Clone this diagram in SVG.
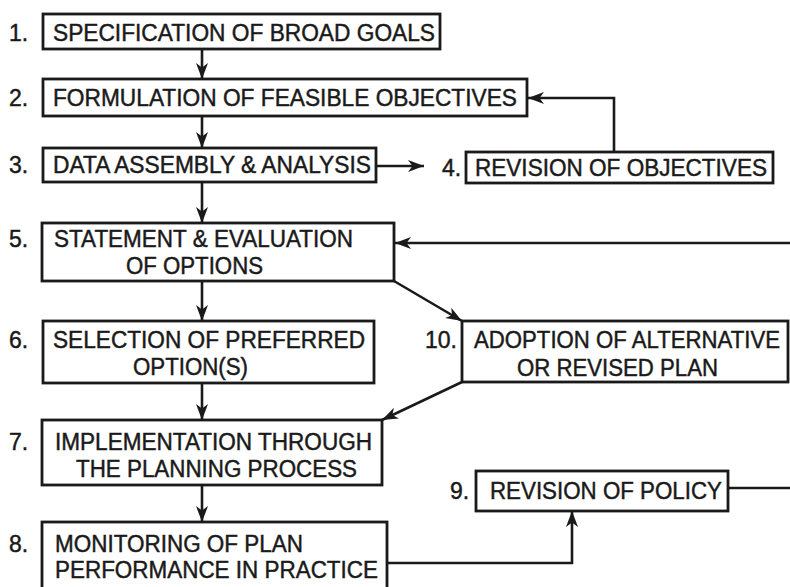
<svg xmlns="http://www.w3.org/2000/svg" width="790" height="587" viewBox="0 0 790 587">
<style>
  .box{fill:#fff;stroke:#1a1a1a;stroke-width:2.8}
  .t{font-family:"Liberation Sans",Arial,Helvetica,sans-serif;font-size:23px;fill:#1a1a1a;stroke:#1a1a1a;stroke-width:0.45}
  .c{fill:none;stroke:#1a1a1a;stroke-width:2.6}
</style>
<defs>
  <marker id="ah" markerUnits="userSpaceOnUse" markerWidth="17" markerHeight="13" refX="16" refY="6.5" orient="auto">
    <path d="M0,0.5 L16,6.5 L0,12.5 L4.5,6.5 z" fill="#1a1a1a"/>
  </marker>
</defs>
<rect width="790" height="587" fill="#fff"/>
<g id="connectors">
  <line class="c" x1="202" y1="49" x2="202" y2="79" marker-end="url(#ah)"/>
  <line class="c" x1="202" y1="116" x2="202" y2="148" marker-end="url(#ah)"/>
  <line class="c" x1="202" y1="182" x2="202" y2="223" marker-end="url(#ah)"/>
  <line class="c" x1="202" y1="281" x2="202" y2="321" marker-end="url(#ah)"/>
  <line class="c" x1="202" y1="383" x2="202" y2="420" marker-end="url(#ah)"/>
  <line class="c" x1="202" y1="485" x2="202" y2="522" marker-end="url(#ah)"/>
  <line class="c" x1="376" y1="166" x2="424" y2="166" marker-end="url(#ah)"/>
  <polyline class="c" points="614,152 614,98 528,98" marker-end="url(#ah)"/>
  <line class="c" x1="792" y1="243" x2="395" y2="243" marker-end="url(#ah)"/>
  <line class="c" x1="394" y1="281" x2="462" y2="321" marker-end="url(#ah)"/>
  <line class="c" x1="462" y1="382" x2="382" y2="420" marker-end="url(#ah)"/>
  <polyline class="c" points="387,563 572,563 572,511" marker-end="url(#ah)"/>
  <line class="c" x1="728" y1="488" x2="792" y2="488"/>
</g>
<g id="node1">
  <rect class="box" x="43" y="14" width="397" height="35"/>
  <text class="t" x="9" y="41">1.</text>
  <text class="t" x="53" y="41" textLength="382" lengthAdjust="spacingAndGlyphs">SPECIFICATION OF BROAD GOALS</text>
</g>
<g id="node2">
  <rect class="box" x="43" y="79" width="484" height="37"/>
  <text class="t" x="9" y="106">2.</text>
  <text class="t" x="53" y="106" textLength="464" lengthAdjust="spacingAndGlyphs">FORMULATION OF FEASIBLE OBJECTIVES</text>
</g>
<g id="node3">
  <rect class="box" x="43" y="148" width="333" height="34"/>
  <text class="t" x="9" y="173">3.</text>
  <text class="t" x="53" y="173" textLength="318" lengthAdjust="spacingAndGlyphs">DATA ASSEMBLY &amp; ANALYSIS</text>
</g>
<g id="node4">
  <rect class="box" x="466" y="152" width="307" height="31"/>
  <text class="t" x="442" y="176">4.</text>
  <text class="t" x="475" y="176" textLength="292" lengthAdjust="spacingAndGlyphs">REVISION OF OBJECTIVES</text>
</g>
<g id="node5">
  <rect class="box" x="42" y="223" width="352" height="58"/>
  <text class="t" x="9" y="247">5.</text>
  <text class="t" x="54" y="247" textLength="299" lengthAdjust="spacingAndGlyphs">STATEMENT &amp; EVALUATION</text>
  <text class="t" x="126" y="274" textLength="137" lengthAdjust="spacingAndGlyphs">OF OPTIONS</text>
</g>
<g id="node6">
  <rect class="box" x="43" y="321" width="331" height="62"/>
  <text class="t" x="9" y="348">6.</text>
  <text class="t" x="53" y="348" textLength="312" lengthAdjust="spacingAndGlyphs">SELECTION OF PREFERRED</text>
  <text class="t" x="133" y="375" textLength="115" lengthAdjust="spacingAndGlyphs">OPTION(S)</text>
</g>
<g id="node10">
  <rect class="box" x="462" y="321" width="326" height="61"/>
  <text class="t" x="425" y="348">10.</text>
  <text class="t" x="474" y="348" textLength="306" lengthAdjust="spacingAndGlyphs">ADOPTION OF ALTERNATIVE</text>
  <text class="t" x="517" y="376" textLength="201" lengthAdjust="spacingAndGlyphs">OR REVISED PLAN</text>
</g>
<g id="node7">
  <rect class="box" x="42" y="420" width="340" height="65"/>
  <text class="t" x="9" y="450">7.</text>
  <text class="t" x="55" y="450" textLength="317" lengthAdjust="spacingAndGlyphs">IMPLEMENTATION THROUGH</text>
  <text class="t" x="76" y="477" textLength="281" lengthAdjust="spacingAndGlyphs">THE PLANNING PROCESS</text>
</g>
<g id="node8">
  <rect class="box" x="42" y="522" width="345" height="68"/>
  <text class="t" x="9" y="552">8.</text>
  <text class="t" x="55" y="552" textLength="248" lengthAdjust="spacingAndGlyphs">MONITORING OF PLAN</text>
  <text class="t" x="55" y="578" textLength="323" lengthAdjust="spacingAndGlyphs">PERFORMANCE IN PRACTICE</text>
</g>
<g id="node9">
  <rect class="box" x="476" y="471" width="252" height="40"/>
  <text class="t" x="450" y="499">9.</text>
  <text class="t" x="490" y="499" textLength="232" lengthAdjust="spacingAndGlyphs">REVISION OF POLICY</text>
</g>
</svg>
